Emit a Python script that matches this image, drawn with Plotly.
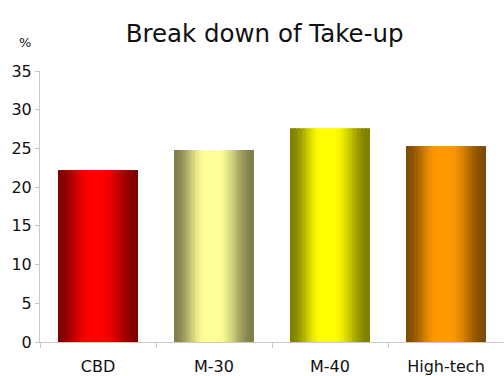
import plotly.graph_objects as go

# Chart data
categories = ["CBD", "M-30", "M-40", "High-tech"]
take_up = [22.2, 24.8, 27.6, 25.3]
base_colors = [(255, 0, 0), (255, 255, 153), (255, 255, 0), (255, 153, 0)]
y_ticks = [0, 5, 10, 15, 20, 25, 30, 35]

BAR_WIDTH = 0.68
N_STRIPS = 60


def shade(t):
    """Brightness factor across a bar: dark edges, bright middle."""
    if t < 0.4:
        u = t / 0.4
    elif t < 0.55:
        u = 1.0
    else:
        u = (1.0 - t) / 0.45
    u = u * u * (3 - 2 * u)
    return 0.5 + 0.5 * u


fig = go.Figure()
step = BAR_WIDTH / N_STRIPS
for k in range(N_STRIPS):
    t = (k + 0.5) / N_STRIPS
    f = shade(t)
    colors = ["rgb({},{},{})".format(int(r * f), int(g * f), int(b * f))
              for r, g, b in base_colors]
    fig.add_trace(go.Bar(
        x=categories,
        y=take_up,
        width=step * 1.15,
        offset=-BAR_WIDTH / 2 + k * step,
        marker=dict(color=colors, line=dict(width=0)),
        showlegend=False,
        hoverinfo="x+y",
    ))

fig.update_layout(
    width=504,
    height=376,
    barmode="overlay",
    plot_bgcolor="white",
    paper_bgcolor="white",
    margin=dict(l=40, r=0, t=71, b=34),
    font=dict(family="DejaVu Sans, Verdana, sans-serif", color="#111111", size=15),
    title=dict(
        text="Break down of Take-up",
        x=0.525,
        xanchor="center",
        y=0.912,
        yanchor="middle",
        font=dict(size=24.5, color="#111111"),
    ),
    annotations=[
        dict(text="%", xref="paper", yref="paper", x=-0.032, y=1.105,
             xanchor="center", yanchor="middle", showarrow=False,
             font=dict(size=13, color="#111111")),
    ],
)

fig.update_yaxes(
    range=[0, 35],
    tickvals=y_ticks,
    showgrid=False,
    zeroline=False,
    showline=True,
    linecolor="#c8c8c8",
    linewidth=1,
    ticks="outside",
    ticklen=4,
    tickcolor="#c8c8c8",
    automargin=False,
    tickfont=dict(size=16),
)
fig.update_xaxes(
    showgrid=False,
    showline=True,
    linecolor="#c8c8c8",
    linewidth=1,
    ticks="outside",
    ticklen=5,
    tickcolor="#c8c8c8",
    tickson="boundaries",
    ticklabelstandoff=10,
    automargin=False,
    tickfont=dict(size=16),
)

fig.write_html("out.html")
